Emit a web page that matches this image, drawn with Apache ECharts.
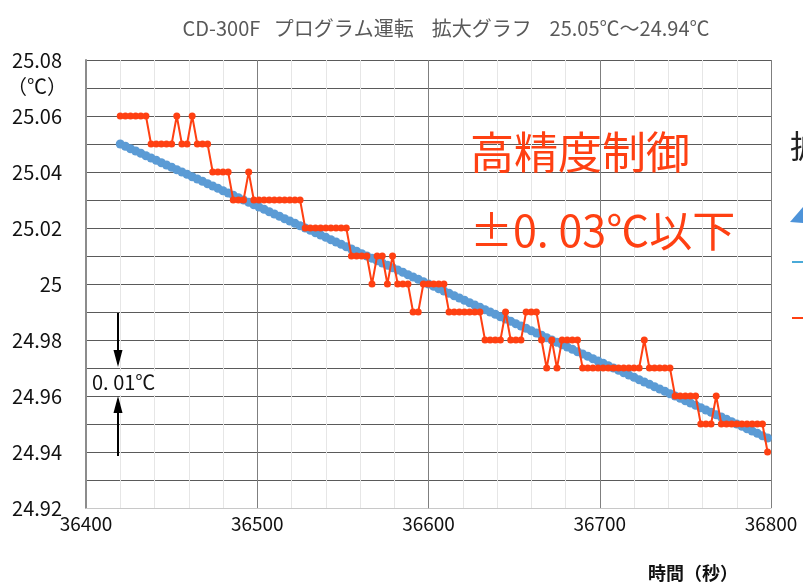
<!DOCTYPE html>
<html>
<head>
<meta charset="utf-8">
<script src="https://cdn.jsdelivr.net/npm/echarts@6/dist/echarts.min.js"></script>
<style>
html,body{margin:0;padding:0;background:#fff;}
#main{width:803px;height:584px;}
</style>
</head>
<body>
<div id="main"></div>
<script>
// ---- data ----
var titleText = 'CD-300F   プログラム運転    拡大グラフ    25.05℃～24.94℃';
var xAxisName = '時間（秒）';
var yUnit = '（℃）';
var noteLine1 = '高精度制御';
var noteLine2 = '±0. 03℃以下';
var stepNote = '0. 01℃';

var times = [
36420,36423,36426,36429,36432,36435,36438,36441,36444,36447,
36450,36453,36456,36459,36462,36465,36468,36471,36474,36477,
36480,36483,36486,36489,36492,36495,36498,36501,36504,36507,
36510,36513,36516,36519,36522,36525,36528,36531,36534,36537,
36540,36543,36546,36549,36552,36555,36558,36561,36564,36567,
36570,36573,36576,36579,36582,36585,36588,36591,36594,36597,
36600,36603,36606,36609,36612,36615,36618,36621,36624,36627,
36630,36633,36636,36639,36642,36645,36648,36651,36654,36657,
36660,36663,36666,36669,36672,36675,36678,36681,36684,36687,
36690,36693,36696,36699,36702,36705,36708,36711,36714,36717,
36720,36723,36726,36729,36732,36735,36738,36741,36744,36747,
36750,36753,36756,36759,36762,36765,36768,36771,36774,36777,
36780,36783,36786,36789,36792,36795,36798
];

var setValues = [
25.0500,25.0492,25.0483,25.0475,25.0467,25.0458,25.0450,25.0442,25.0433,25.0425,
25.0417,25.0408,25.0400,25.0392,25.0383,25.0375,25.0367,25.0358,25.0350,25.0342,
25.0333,25.0325,25.0317,25.0308,25.0300,25.0292,25.0283,25.0275,25.0267,25.0258,
25.0250,25.0242,25.0233,25.0225,25.0217,25.0208,25.0200,25.0192,25.0183,25.0175,
25.0167,25.0158,25.0150,25.0142,25.0133,25.0125,25.0117,25.0108,25.0100,25.0092,
25.0083,25.0075,25.0067,25.0058,25.0050,25.0042,25.0033,25.0025,25.0017,25.0008,
25.0000,24.9992,24.9983,24.9975,24.9967,24.9958,24.9950,24.9942,24.9933,24.9925,
24.9917,24.9908,24.9900,24.9892,24.9883,24.9875,24.9867,24.9858,24.9850,24.9842,
24.9833,24.9825,24.9817,24.9808,24.9800,24.9792,24.9783,24.9775,24.9767,24.9758,
24.9750,24.9742,24.9733,24.9725,24.9717,24.9708,24.9700,24.9692,24.9683,24.9675,
24.9667,24.9658,24.9650,24.9642,24.9633,24.9625,24.9617,24.9608,24.9600,24.9592,
24.9583,24.9575,24.9567,24.9558,24.9550,24.9542,24.9533,24.9525,24.9517,24.9508,
24.9500,24.9492,24.9483,24.9475,24.9467,24.9458,24.9450
];

var measuredValues = [
25.06,25.06,25.06,25.06,25.06,25.06,25.05,25.05,25.05,25.05,
25.05,25.06,25.05,25.05,25.06,25.05,25.05,25.05,25.04,25.04,
25.04,25.04,25.03,25.03,25.03,25.04,25.03,25.03,25.03,25.03,
25.03,25.03,25.03,25.03,25.03,25.03,25.02,25.02,25.02,25.02,
25.02,25.02,25.02,25.02,25.02,25.01,25.01,25.01,25.01,25.00,
25.01,25.01,25.00,25.01,25.00,25.00,25.00,24.99,24.99,25.00,
25.00,25.00,25.00,25.00,24.99,24.99,24.99,24.99,24.99,24.99,
24.99,24.98,24.98,24.98,24.98,24.99,24.98,24.98,24.98,24.99,
24.99,24.99,24.98,24.97,24.98,24.97,24.98,24.98,24.98,24.98,
24.97,24.97,24.97,24.97,24.97,24.97,24.97,24.97,24.97,24.97,
24.97,24.97,24.98,24.97,24.97,24.97,24.97,24.97,24.96,24.96,
24.96,24.96,24.96,24.95,24.95,24.95,24.96,24.95,24.95,24.95,
24.95,24.95,24.95,24.95,24.95,24.95,24.94
];

var xTickLabels = [36400, 36500, 36600, 36700, 36800];
var yTickLabels = [24.92, 24.94, 24.96, 24.98, 25, 25.02, 25.04, 25.06, 25.08];

// ---- build ----
var setPairs = times.map(function (t, i) { return [t, setValues[i]]; });
var measPairs = times.map(function (t, i) { return [t, measuredValues[i]]; });

var FONT = '"Noto Sans CJK JP","Noto Sans",sans-serif';
var RED = '#FF4012';
var BLUE = '#5B9BD5';

var chart = echarts.init(document.getElementById('main'), null, {renderer: 'canvas'});

chart.setOption({
  animation: false,
  backgroundColor: '#fff',
  textStyle: {fontFamily: FONT},
  grid: {left: 86, right: 32, top: 60, bottom: 76, containLabel: false},
  xAxis: {
    type: 'value',
    min: 36400, max: 36800, interval: 100,
    axisLine: {show: true, onZero: false, lineStyle: {color: '#c8c8c8', width: 1}},
    axisTick: {show: false},
    axisLabel: {
      color: '#111', fontSize: 19, fontFamily: FONT, margin: 6,
      formatter: function (v) { return xTickLabels.indexOf(v) >= 0 ? String(v) : ''; }
    },
    splitLine: {show: true, lineStyle: {color: '#7f7f7f', width: 1}},
    minorTick: {show: false, splitNumber: 5},
    minorSplitLine: {show: true, lineStyle: {color: '#e6e6e6', width: 1}}
  },
  yAxis: {
    type: 'value',
    min: 24.92, max: 25.08, interval: 0.01,
    axisLine: {show: true, lineStyle: {color: '#8c8c8c', width: 2}},
    axisTick: {show: false},
    axisLabel: {
      color: '#111', fontSize: 20, fontFamily: FONT, margin: 24,
      formatter: function (v) {
        var r = Math.round(v * 100) / 100;
        for (var k = 0; k < yTickLabels.length; k++) {
          if (Math.abs(yTickLabels[k] - r) < 1e-6) return String(yTickLabels[k]);
        }
        return '';
      }
    },
    splitLine: {show: true, lineStyle: {color: '#5a5a5a', width: 1}}
  },
  series: [
    {
      name: '設定値',
      type: 'line',
      data: setPairs,
      symbol: 'circle',
      symbolSize: 9,
      showSymbol: true,
      itemStyle: {color: BLUE},
      lineStyle: {color: BLUE, width: 5},
      z: 2
    },
    {
      name: '測定値',
      type: 'line',
      data: measPairs,
      symbol: 'circle',
      symbolSize: 7,
      showSymbol: true,
      itemStyle: {color: RED},
      lineStyle: {color: RED, width: 2},
      z: 3
    }
  ],
  graphic: [
    {type: 'text', x: 446, y: 28, style: {text: titleText, fill: '#595959', font: '20px ' + FONT, textAlign: 'center', textVerticalAlign: 'middle'}},
    {type: 'text', x: 37, y: 86, style: {text: yUnit, fill: '#111', font: '20px ' + FONT, textAlign: 'center', textVerticalAlign: 'middle'}},
    {type: 'text', x: 693, y: 573, style: {text: xAxisName, fill: '#111', font: 'bold 18px ' + FONT, textAlign: 'center', textVerticalAlign: 'middle'}},
    {type: 'text', x: 470, y: 152, z: 10, style: {text: noteLine1, fill: RED, font: '44px ' + FONT, textAlign: 'left', textVerticalAlign: 'middle'}},
    {type: 'text', x: 470, y: 231, z: 10, style: {text: noteLine2, fill: RED, font: '43px ' + FONT, textAlign: 'left', textVerticalAlign: 'middle'}},
    // 0.01 step annotation
    {type: 'line', z: 10, shape: {x1: 118, y1: 313, x2: 118, y2: 355}, style: {stroke: '#000', lineWidth: 2}},
    {type: 'polygon', z: 10, shape: {points: [[118, 367], [113.5, 350], [122.5, 350]]}, style: {fill: '#000'}},
    {type: 'line', z: 10, shape: {x1: 118, y1: 456, x2: 118, y2: 408}, style: {stroke: '#000', lineWidth: 2}},
    {type: 'polygon', z: 10, shape: {points: [[118, 396], [113.5, 413], [122.5, 413]]}, style: {fill: '#000'}},
    {type: 'rect', z: 9, shape: {x: 90, y: 371, width: 74, height: 24}, style: {fill: '#fff'}},
    {type: 'text', z: 10, x: 92, y: 382, style: {text: stepNote, fill: '#111', font: '20px ' + FONT, textAlign: 'left', textVerticalAlign: 'middle'}},
    // legend remnants at the right edge
    {type: 'text', x: 790, y: 146, style: {text: '拡', fill: '#222', font: '32px ' + FONT, textAlign: 'left', textVerticalAlign: 'middle'}},
    {type: 'polygon', shape: {points: [[790, 222], [803, 207], [803, 223]]}, style: {fill: '#4D93D9'}},
    {type: 'line', shape: {x1: 792, y1: 262, x2: 803, y2: 262}, style: {stroke: '#4AAAD8', lineWidth: 2}},
    {type: 'line', shape: {x1: 792, y1: 318, x2: 803, y2: 318}, style: {stroke: RED, lineWidth: 2}}
  ]
});
</script>
</body>
</html>
